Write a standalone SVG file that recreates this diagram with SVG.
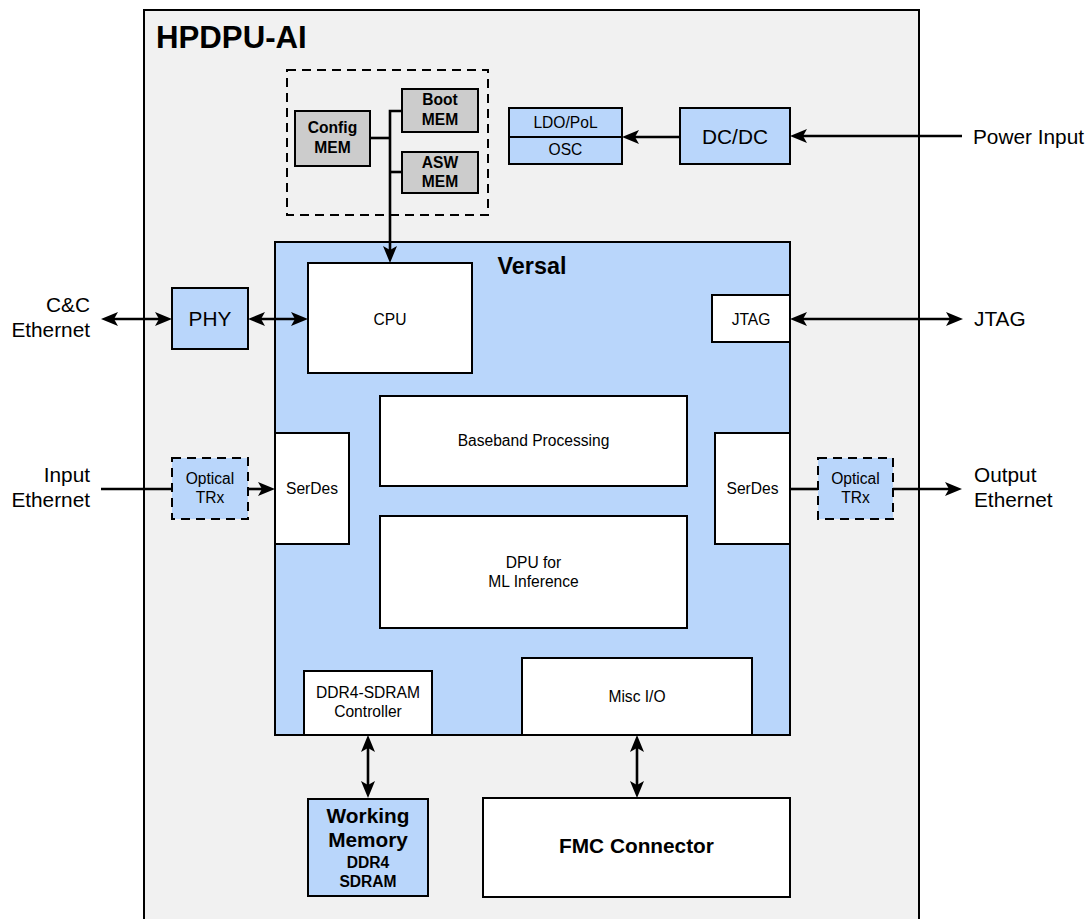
<svg xmlns="http://www.w3.org/2000/svg" width="1090" height="919" viewBox="0 0 1090 919">
<style>
text{font-family:"Liberation Sans",Arial,sans-serif;fill:#000}
.s{font-size:15.6px}
.m{font-size:20.8px}
.b{font-weight:bold}
.c{text-anchor:middle}
.box{stroke:#000;stroke-width:2}
.blue{fill:#b9d6fb}
.white{fill:#fff}
.grey{fill:#cccccc}
.dash{stroke-dasharray:9 6}
.conn path{fill:none;stroke:#000;stroke-width:2.6}
</style>
<defs>
<marker id="arr" viewBox="-5 -8 19 16" refX="0" refY="0" markerWidth="19" markerHeight="16" markerUnits="userSpaceOnUse" orient="auto-start-reverse">
<path d="M13,0 L-4,-7 L0,0 L-4,7 Z" fill="#000"/>
</marker>
</defs>
<rect width="1090" height="919" fill="#fff"/>

<g id="hpdpu">
<rect x="144" y="10" width="775" height="930" fill="#f1f1f1" class="box"/>
<text x="156" y="48" font-size="31.2px" class="b">HPDPU-AI</text>
</g>

<g id="memgroup">
<rect x="287" y="70" width="201" height="145" fill="none" class="box dash"/>
</g>
<g id="config-mem">
<rect x="295" y="111" width="75" height="55" class="box grey"/>
<text x="332.5" y="133" class="s b c">Config</text>
<text x="332.5" y="152.5" class="s b c">MEM</text>
</g>
<g id="boot-mem">
<rect x="402" y="89" width="76" height="43" class="box grey"/>
<text x="440" y="105" class="s b c">Boot</text>
<text x="440" y="125" class="s b c">MEM</text>
</g>
<g id="asw-mem">
<rect x="402" y="152" width="76" height="41" class="box grey"/>
<text x="440" y="167.5" class="s b c">ASW</text>
<text x="440" y="186.5" class="s b c">MEM</text>
</g>

<g id="ldo-osc">
<rect x="509" y="108" width="113" height="56" class="box blue"/>
<line x1="509" y1="137" x2="622" y2="137" stroke="#000" stroke-width="2"/>
<text x="565.5" y="128.3" class="s c">LDO/PoL</text>
<text x="565.5" y="155" class="s c">OSC</text>
</g>
<g id="dcdc">
<rect x="680" y="108" width="110" height="56" class="box blue"/>
<text x="735" y="143.5" class="m c">DC/DC</text>
</g>

<g id="versal">
<rect x="275" y="242" width="515" height="493" class="box blue"/>
<text x="532" y="274" font-size="23.4px" class="b c">Versal</text>
</g>
<g id="cpu">
<rect x="308" y="263" width="164" height="110" class="box white"/>
<text x="390" y="325" class="s c">CPU</text>
</g>
<g id="jtag-in">
<rect x="712" y="295" width="78" height="47" class="box white"/>
<text x="751" y="324.5" class="s c">JTAG</text>
</g>
<g id="baseband">
<rect x="380" y="396" width="307" height="90" class="box white"/>
<text x="533.5" y="446" class="s c">Baseband Processing</text>
</g>
<g id="serdes-left">
<rect x="275" y="433" width="74" height="111" class="box white"/>
<text x="312" y="493.5" class="s c">SerDes</text>
</g>
<g id="serdes-right">
<rect x="715" y="433" width="75" height="111" class="box white"/>
<text x="752.5" y="493.5" class="s c">SerDes</text>
</g>
<g id="dpu">
<rect x="380" y="516" width="307" height="112" class="box white"/>
<text x="533.5" y="568.3" class="s c">DPU for</text>
<text x="533.5" y="586.7" class="s c">ML Inference</text>
</g>
<g id="ddr-ctrl">
<rect x="304" y="671" width="128" height="64" class="box white"/>
<text x="368" y="698.3" class="s c">DDR4-SDRAM</text>
<text x="368" y="717.3" class="s c">Controller</text>
</g>
<g id="misc-io">
<rect x="522" y="658" width="230" height="77" class="box white"/>
<text x="637" y="701.7" class="s c">Misc I/O</text>
</g>

<g id="phy">
<rect x="172" y="288" width="76" height="61" class="box blue"/>
<text x="210" y="326" class="m c">PHY</text>
</g>
<g id="optical-in">
<rect x="172" y="458" width="76" height="61" class="box blue dash"/>
<text x="210" y="484" class="s c">Optical</text>
<text x="210" y="503.3" class="s c">TRx</text>
</g>
<g id="optical-out">
<rect x="818" y="458" width="75" height="61" class="box blue dash"/>
<text x="855.5" y="484" class="s c">Optical</text>
<text x="855.5" y="503.3" class="s c">TRx</text>
</g>

<g id="working-memory">
<rect x="308" y="799" width="120" height="97" class="box blue"/>
<text x="368" y="822.7" class="m b c">Working</text>
<text x="368" y="847.3" class="m b c">Memory</text>
<text x="368" y="868.3" class="s b c">DDR4</text>
<text x="368" y="886.7" class="s b c">SDRAM</text>
</g>
<g id="fmc">
<rect x="483" y="798" width="307" height="99" class="box white"/>
<text x="636.5" y="853.3" class="m b c">FMC Connector</text>
</g>

<g id="ext-labels">
<text x="973" y="144" class="m">Power Input</text>
<text x="90" y="311.7" class="m" text-anchor="end">C&amp;C</text>
<text x="90" y="337.3" class="m" text-anchor="end">Ethernet</text>
<text x="974" y="326" class="m">JTAG</text>
<text x="90" y="481.7" class="m" text-anchor="end">Input</text>
<text x="90" y="507.3" class="m" text-anchor="end">Ethernet</text>
<text x="974" y="481.7" class="m">Output</text>
<text x="974" y="507.3" class="m">Ethernet</text>
</g>

<g id="connectors" class="conn">
<path d="M402,111 H390 V250" marker-end="url(#arr)"/>
<path d="M370,138 H390"/>
<path d="M390,172 H402"/>
<path d="M962,136 H803" marker-end="url(#arr)"/>
<path d="M680,137 H635" marker-end="url(#arr)"/>
<path d="M114,319 H159" marker-start="url(#arr)" marker-end="url(#arr)"/>
<path d="M261,319 H295" marker-start="url(#arr)" marker-end="url(#arr)"/>
<path d="M803,319 H950" marker-start="url(#arr)" marker-end="url(#arr)"/>
<path d="M101,489 H172"/>
<path d="M248,489 H262" marker-end="url(#arr)"/>
<path d="M790,489 H818"/>
<path d="M893,489 H949" marker-end="url(#arr)"/>
<path d="M368,748 V785" marker-start="url(#arr)" marker-end="url(#arr)"/>
<path d="M637,748 V785" marker-start="url(#arr)" marker-end="url(#arr)"/>
</g>
</svg>
